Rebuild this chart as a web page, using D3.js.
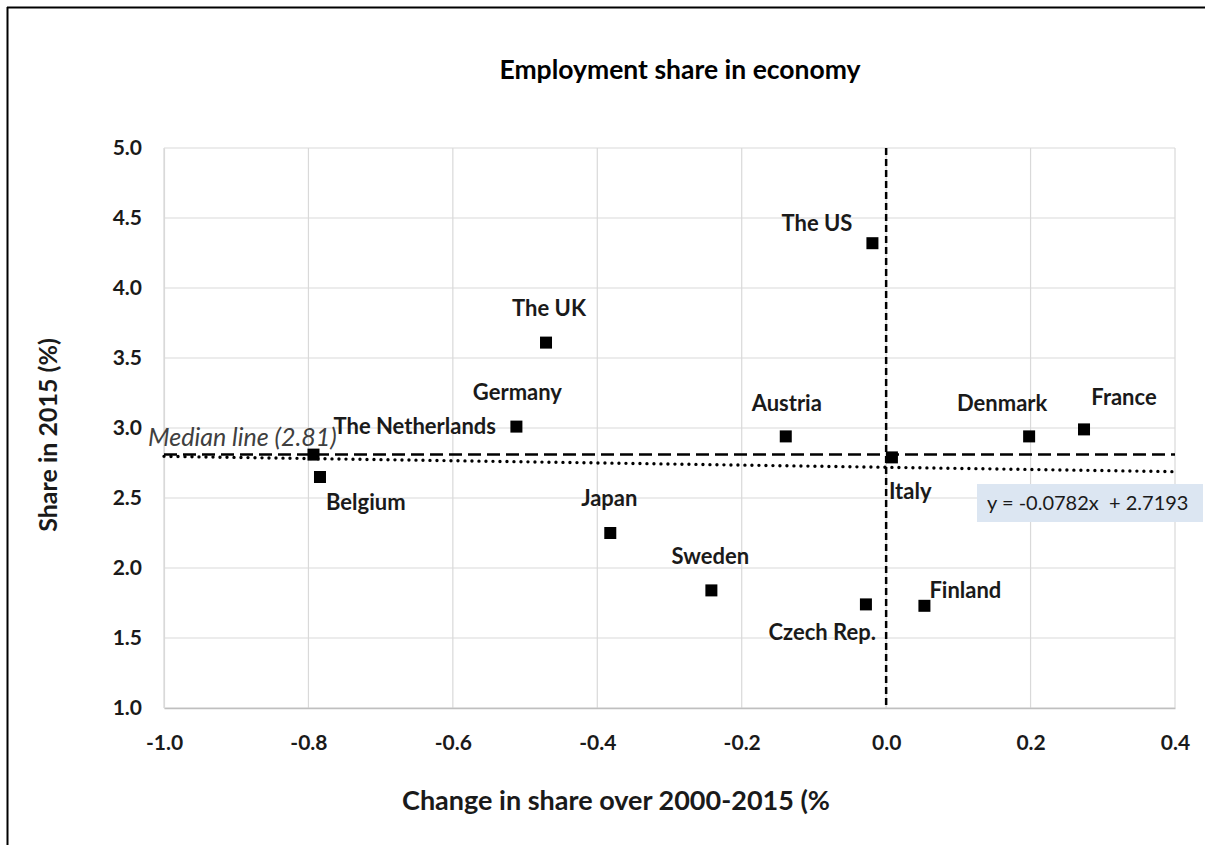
<!DOCTYPE html>
<html>
<head>
<meta charset="utf-8">
<script src="https://cdn.jsdelivr.net/npm/d3@7/dist/d3.min.js"></script>
<style>
  html, body { margin: 0; padding: 0; background: #fff; overflow: hidden; }
  svg { display: block; }
  text { font-family: Lato, "Open Sans", sans-serif; }
</style>
</head>
<body>
<svg id="chart" width="1205" height="845"></svg>
<script>
// ---- data ----
const countries = ["The US", "The UK", "Germany", "The Netherlands", "Belgium", "Austria",
                   "Italy", "Denmark", "France", "Japan", "Sweden", "Czech Rep.", "Finland"];
const changeShare = [-0.019, -0.471, -0.512, -0.793, -0.784, -0.139,
                     0.008, 0.198, 0.274, -0.382, -0.242, -0.028, 0.053];
const share2015 = [4.32, 3.61, 3.01, 2.81, 2.65, 2.94,
                   2.79, 2.94, 2.99, 2.25, 1.84, 1.74, 1.73];
const xTicks = [-1.0, -0.8, -0.6, -0.4, -0.2, 0.0, 0.2, 0.4];
const yTicks = [1.0, 1.5, 2.0, 2.5, 3.0, 3.5, 4.0, 4.5, 5.0];
const medianValue = 2.81;
const trendSlope = -0.0782;
const trendIntercept = 2.7193;

// ---- label layout (pixel offsets from marker, anchor) ----
const labelLayout = {
  "The US": [-20, -12, "end"],
  "The UK": [3, -27, "middle"],
  "Germany": [1, -27, "middle"],
  "The Netherlands": [20, -21, "start"],
  "Belgium": [6, 33, "start"],
  "Austria": [1, -25, "middle"],
  "Italy": [-3, 42, "start"],
  "Denmark": [-27, -25, "middle"],
  "France": [40, -24, "middle"],
  "Japan": [-1, -27, "middle"],
  "Sweden": [-1, -26, "middle"],
  "Czech Rep.": [10, 36, "end"],
  "Finland": [5, -8, "start"]
};

const fmt = d => d.toFixed(1);   // hyphen-minus like the original
const ink = "#1a1a1a";

const svg = d3.select("#chart");

// frame lines (top & left edges)
svg.append("line").attr("x1", 7).attr("y1", 7.5).attr("x2", 1205).attr("y2", 7.5)
  .attr("stroke", "#000").attr("stroke-width", 2);
svg.append("line").attr("x1", 7.5).attr("y1", 7).attr("x2", 7.5).attr("y2", 845)
  .attr("stroke", "#000").attr("stroke-width", 2);

const x = d3.scaleLinear().domain([-1.0, 0.4]).range([164, 1175]);
const y = d3.scaleLinear().domain([1.0, 5.0]).range([708, 148]);

// gridlines
const grid = svg.append("g");
grid.selectAll("line.v").data(xTicks).join("line")
  .attr("x1", d => x(d)).attr("x2", d => x(d))
  .attr("y1", y(5.0)).attr("y2", y(1.0))
  .attr("stroke", "#d9d9d9").attr("stroke-width", 1.2);
grid.selectAll("line.h").data(yTicks).join("line")
  .attr("x1", x(-1.0)).attr("x2", x(0.4))
  .attr("y1", d => y(d)).attr("y2", d => y(d))
  .attr("stroke", "#d9d9d9").attr("stroke-width", 1.2);

// axes
const xAxis = svg.append("g").attr("transform", `translate(0,${y(1.0)})`)
  .call(d3.axisBottom(x).tickValues(xTicks).tickFormat(fmt).tickSize(0).tickPadding(27));
xAxis.select(".domain").attr("stroke", "#bfbfbf").attr("stroke-width", 1.5);
xAxis.selectAll("text").attr("font-size", 21).attr("font-weight", "bold").attr("fill", ink)
  .attr("font-family", "Lato, sans-serif");

const yAxis = svg.append("g").attr("transform", `translate(${x(-1.0)},0)`)
  .call(d3.axisLeft(y).tickValues(yTicks).tickFormat(fmt).tickSize(0).tickPadding(22));
yAxis.select(".domain").attr("stroke", "#d9d9d9").attr("stroke-width", 1.2);
yAxis.selectAll("text").attr("font-size", 21).attr("font-weight", "bold").attr("fill", ink)
  .attr("font-family", "Lato, sans-serif");

// vertical dashed zero line
svg.append("line")
  .attr("x1", x(0)).attr("x2", x(0)).attr("y1", y(5.0)).attr("y2", y(1.0))
  .attr("stroke", "#000").attr("stroke-width", 2.5).attr("stroke-dasharray", "7,4");

// median dashed line
svg.append("line")
  .attr("x1", x(-1.0)).attr("x2", x(0.4)).attr("y1", y(medianValue)).attr("y2", y(medianValue))
  .attr("stroke", "#000").attr("stroke-width", 2.5).attr("stroke-dasharray", "13,6");

// trendline dotted
const tx = [-1.0, 0.4];
svg.append("line")
  .attr("x1", x(tx[0])).attr("x2", x(tx[1]))
  .attr("y1", y(trendSlope * tx[0] + trendIntercept))
  .attr("y2", y(trendSlope * tx[1] + trendIntercept))
  .attr("stroke", "#000").attr("stroke-width", 3.4)
  .attr("stroke-linecap", "round").attr("stroke-dasharray", "0,7");

// points
const pts = countries.map((c, i) => ({ name: c, cx: changeShare[i], cy: share2015[i] }));
svg.append("g").selectAll("rect").data(pts).join("rect")
  .attr("x", d => x(d.cx) - 6).attr("y", d => y(d.cy) - 6)
  .attr("width", 12).attr("height", 12).attr("fill", "#000");

// labels
svg.append("g").selectAll("text").data(pts).join("text")
  .attr("x", d => x(d.cx) + labelLayout[d.name][0])
  .attr("y", d => y(d.cy) + labelLayout[d.name][1])
  .attr("text-anchor", d => labelLayout[d.name][2])
  .attr("font-size", 22).attr("font-weight", "bold").attr("fill", ink)
  .text(d => d.name);

// median label
svg.append("text").attr("x", 148).attr("y", 446)
  .attr("font-size", 25).attr("font-style", "italic").attr("fill", "#404040")
  .text(`Median line (${medianValue.toFixed(2)})`);

// trend equation box
svg.append("rect").attr("x", 977).attr("y", 484).attr("width", 226).attr("height", 38)
  .attr("fill", "#dce6f2");
svg.append("text").attr("x", 987).attr("y", 510)
  .attr("font-size", 20).attr("fill", ink).attr("xml:space", "preserve")
  .style("white-space", "pre")
  .text(`y = ${trendSlope}x  + ${trendIntercept}`);

// title
svg.append("text").attr("x", 680).attr("y", 79).attr("text-anchor", "middle")
  .attr("font-size", 26.5).attr("font-weight", "bold").attr("fill", "#000")
  .text("Employment share in economy");

// axis titles
svg.append("text").attr("x", 616).attr("y", 810).attr("text-anchor", "middle")
  .attr("font-size", 27).attr("font-weight", "bold").attr("fill", ink)
  .text("Change in share over 2000-2015 (%");
svg.append("text").attr("transform", "translate(57,435) rotate(-90)").attr("text-anchor", "middle")
  .attr("font-size", 25).attr("font-weight", "bold").attr("fill", ink)
  .text("Share in 2015 (%)");
</script>
</body>
</html>
